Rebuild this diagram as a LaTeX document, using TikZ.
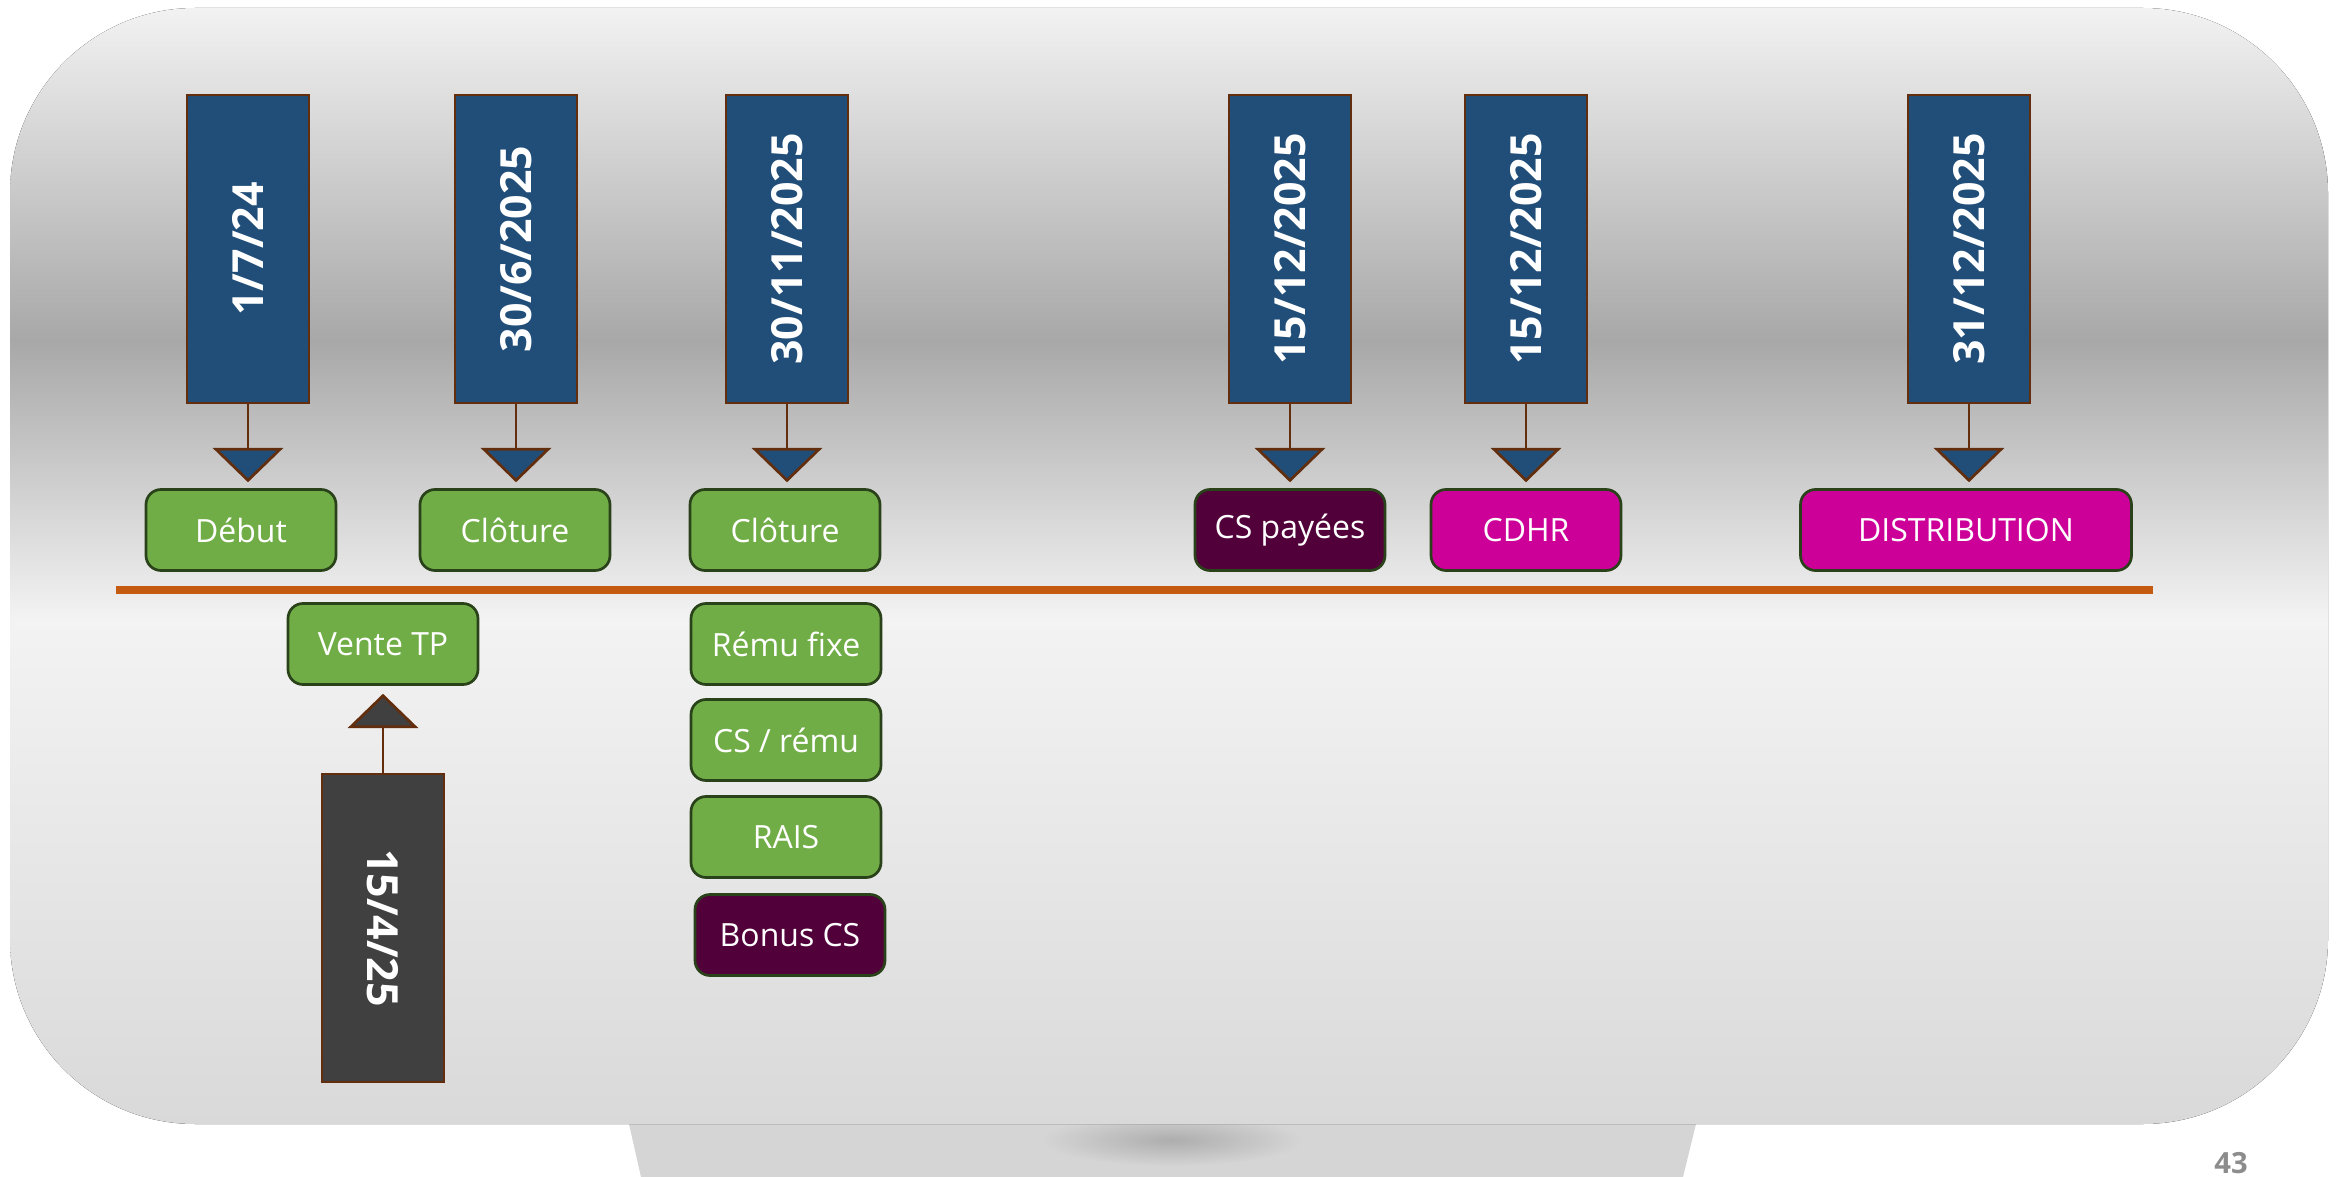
\documentclass[tikz,border=0pt]{standalone}
\usepackage{fontspec}
\setmainfont{Open Sans}
\usetikzlibrary{calc}
\definecolor{datblue}{RGB}{32,78,121}
\definecolor{edge}{RGB}{99,46,14}
\definecolor{leaf}{RGB}{112,173,71}
\definecolor{leafedge}{RGB}{42,66,26}
\definecolor{plum}{RGB}{82,0,58}
\definecolor{fuchsia}{RGB}{204,0,153}
\definecolor{rust}{RGB}{197,90,17}
\definecolor{slate}{RGB}{64,64,64}
\definecolor{bgtop}{RGB}{242,242,242}
\definecolor{bgdark}{RGB}{168,168,168}
\definecolor{bglight}{RGB}{243,243,243}
\definecolor{bgbot}{RGB}{217,217,217}
\pgfdeclareverticalshading{slide}{100bp}{color(0bp)=(bgbot); color(25bp)=(bgbot);
  color(47.6bp)=(bglight); color(60.1bp)=(bgdark); color(75bp)=(bgtop); color(100bp)=(bgtop)}
\begin{document}
\begin{tikzpicture}[x=0.1mm, y=-0.1mm,
    datebox/.style={draw=edge, line width=0.27mm, fill=datblue, text=white,
        minimum width=12.2mm, minimum height=30.8mm, inner sep=0pt,
        font=\fontsize{12.2}{14}\selectfont\bfseries},
    tag/.style={draw=leafedge, line width=0.27mm, rounded corners=1.5mm, fill=leaf,
        text=white, minimum width=19mm, minimum height=8.1mm, inner sep=0pt,
        font=\fontsize{9.1}{11}\selectfont},
    link/.style={draw=edge, line width=0.27mm},
    wedge/.style={draw=edge, line width=0.27mm, fill=datblue, line join=miter}]
    \useasboundingbox (0,0) rectangle (2341,1177);
    % slide background
    \fill[bgbot!98!black] (629,1124) -- (1696,1124) -- (1683,1177) -- (641,1177) -- cycle;
    \shade[inner color=black!32, outer color=bgbot!98!black] (1172,1140) ellipse (130 and 26);
    \fill[shading=slide, rounded corners=18.5mm] (10,8) rectangle (2328,1124);
    \node[text=black!45, font=\fontsize{8.3}{10}\selectfont\bfseries] (page) at (2231,1163) {43};
    % time line
    \draw[rust, line width=0.8mm] (116,590) coordinate (t0) -- (2153,590) coordinate (t1);
    % dates above
    \node[datebox] (date1) at (248,249) {\rotatebox{90}{1/7/24}};
    \node[datebox] (date2) at (516,249) {\rotatebox{90}{30/6/2025}};
    \node[datebox] (date3) at (787,249) {\rotatebox{90}{30/11/2025}};
    \node[datebox] (date4) at (1290,249) {\rotatebox{90}{15/12/2025}};
    \node[datebox] (date5) at (1526,249) {\rotatebox{90}{15/12/2025}};
    \node[datebox] (date6) at (1969,249) {\rotatebox{90}{31/12/2025}};
    \node[tag] (lab1) at (241,530) {Début};
    \node[tag] (lab2) at (515,530) {Clôture};
    \node[tag] (lab3) at (785,530) {Clôture};
    \node[tag, fill=plum] (lab4) at (1290,530) {CS payées};
    \node[tag, fill=fuchsia] (lab5) at (1526,530) {CDHR};
    \node[tag, fill=fuchsia, minimum width=33.1mm] (lab6) at (1966,530) {DISTRIBUTION};
    \foreach \i in {1,...,6}{
        \coordinate (tip\i) at ($(date\i.south)+(0,45)$);
        \draw[link] (date\i.south) -- (tip\i);
        \filldraw[wedge] (tip\i) ++(-32,0) -- ++(64,0) -- ++(-32,31) -- cycle;
    }
    % below the line
    \node[tag] (sale) at (383,644) {Vente TP};
    \node[datebox, fill=slate] (saledate) at (383,928) {\rotatebox{-90}{15/4/25}};
    \coordinate (tip0) at ($(saledate.north)+(0,-46)$);
    \draw[link] (saledate.north) -- (tip0);
    \filldraw[wedge, fill=slate] (tip0) ++(-32,0) -- ++(64,0) -- ++(-32,-31) -- cycle;
    \node[tag] (pay1) at (786,644) {Rému fixe};
    \node[tag] (pay2) at (786,740) {CS / rému};
    \node[tag] (pay3) at (786,837) {RAIS};
    \node[tag, fill=plum] (pay4) at (790,935) {Bonus CS};
\end{tikzpicture}
\end{document}
